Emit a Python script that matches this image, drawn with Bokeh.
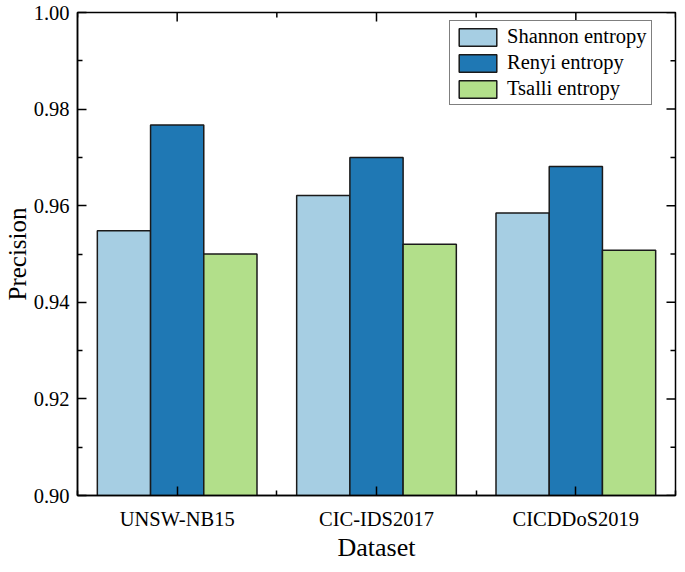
import numpy as np
from bokeh.plotting import figure
from bokeh.models import (Range1d, FixedTicker, Legend, LegendItem, ColumnDataSource)
from bokeh.embed import file_html
from bokeh.resources import INLINE

# ---- data ----
datasets = ["UNSW-NB15", "CIC-IDS2017", "CICDDoS2019"]
series = ["Shannon entropy", "Renyi entropy", "Tsalli entropy"]
shannon = [0.9548, 0.9621, 0.9585]
renyi = [0.9767, 0.9700, 0.9681]
tsalli = [0.9500, 0.9520, 0.9508]
colors = ["#a6cee3", "#1f78b4", "#b2df8a"]
y_ticks = [0.90, 0.92, 0.94, 0.96, 0.98, 1.00]
y_minor = [0.91, 0.93, 0.95, 0.97, 0.99]

FONT = "Liberation Serif"
bar_w = 0.267
centers = np.arange(len(datasets)) + 0.5
x_minor = list(np.arange(len(datasets) + 1))
Y0, Y1 = 0.90, 1.00
X0, X1 = 0, len(datasets)

p = figure(width=677, height=564, output_backend="svg", toolbar_location=None,
           x_range=Range1d(X0, X1), y_range=Range1d(Y0, Y1),
           min_border_left=77, min_border_right=2, min_border_top=12,
           min_border_bottom=67)
p.xgrid.visible = False
p.ygrid.visible = False
p.outline_line_color = "black"
p.outline_line_width = 1.5
p.background_fill_color = "white"
p.border_fill_color = "white"

renderers = []
for i, (name, vals) in enumerate(zip(series, [shannon, renyi, tsalli])):
    xs = centers + (i - 1) * bar_w
    src = ColumnDataSource(dict(x=xs, top=vals))
    r = p.vbar(x="x", top="top", bottom=Y0, width=bar_w, source=src,
               fill_color=colors[i], line_color="#1a1a1a", line_width=1.5)
    renderers.append(r)

xticker = FixedTicker(ticks=list(centers), minor_ticks=x_minor)
yticker = FixedTicker(ticks=y_ticks, minor_ticks=y_minor)

def style_axis(ax):
    ax.axis_line_color = "black"
    ax.axis_line_width = 1.5
    ax.major_tick_line_color = "black"
    ax.minor_tick_line_color = "black"
    ax.major_tick_line_width = 1.5
    ax.minor_tick_line_width = 1.5
    ax.major_tick_in = 9
    ax.major_tick_out = 0
    ax.minor_tick_in = 5
    ax.minor_tick_out = 0
    ax.major_label_text_font = FONT
    ax.major_label_text_color = "black"
    ax.axis_label_text_font = FONT
    ax.axis_label_text_font_style = "normal"
    ax.axis_label_text_color = "black"

# bottom axis
xa = p.xaxis[0]
xa.ticker = xticker
xa.major_label_overrides = {float(c): d for c, d in zip(centers, datasets)}
style_axis(xa)
xa.major_label_text_font_size = "20.5px"
xa.major_label_standoff = 12
xa.axis_label = "Dataset"
xa.axis_label_text_font_size = "26px"
xa.axis_label_standoff = 0

# left axis
ya = p.yaxis[0]
ya.ticker = yticker
ya.major_label_overrides = {v: f"{v:.2f}" for v in y_ticks}
style_axis(ya)
ya.major_label_text_font_size = "20.5px"
ya.major_label_standoff = 8
ya.axis_label = "Precision"
ya.axis_label_text_font_size = "25px"
ya.axis_label_standoff = 0

# inward ticks on the top and right frame edges (mirroring the axis tickers)
p.ray(x=[X1] * len(y_ticks), y=y_ticks, length=9, length_units="screen",
      angle=np.pi, line_color="black", line_width=1.5)
p.ray(x=[X1] * len(y_minor), y=y_minor, length=5, length_units="screen",
      angle=np.pi, line_color="black", line_width=1.5)
p.ray(x=list(centers), y=[Y1] * len(centers), length=9, length_units="screen",
      angle=-np.pi / 2, line_color="black", line_width=1.5)
p.ray(x=x_minor, y=[Y1] * len(x_minor), length=5, length_units="screen",
      angle=-np.pi / 2, line_color="black", line_width=1.5)

legend = Legend(items=[LegendItem(label=s, renderers=[r]) for s, r in zip(series, renderers)],
                location=(372, 390))
legend.label_text_font = FONT
legend.label_text_font_size = "20.5px"
legend.label_text_color = "black"
legend.glyph_width = 47
legend.glyph_height = 22
legend.label_height = 22
legend.label_standoff = 6
legend.spacing = 3
legend.padding = 4
legend.margin = 0
legend.border_line_color = "black"
legend.border_line_width = 1.2
legend.background_fill_alpha = 1.0
p.add_layout(legend, "center")

open("out.html", "w").write(file_html(p, INLINE))
